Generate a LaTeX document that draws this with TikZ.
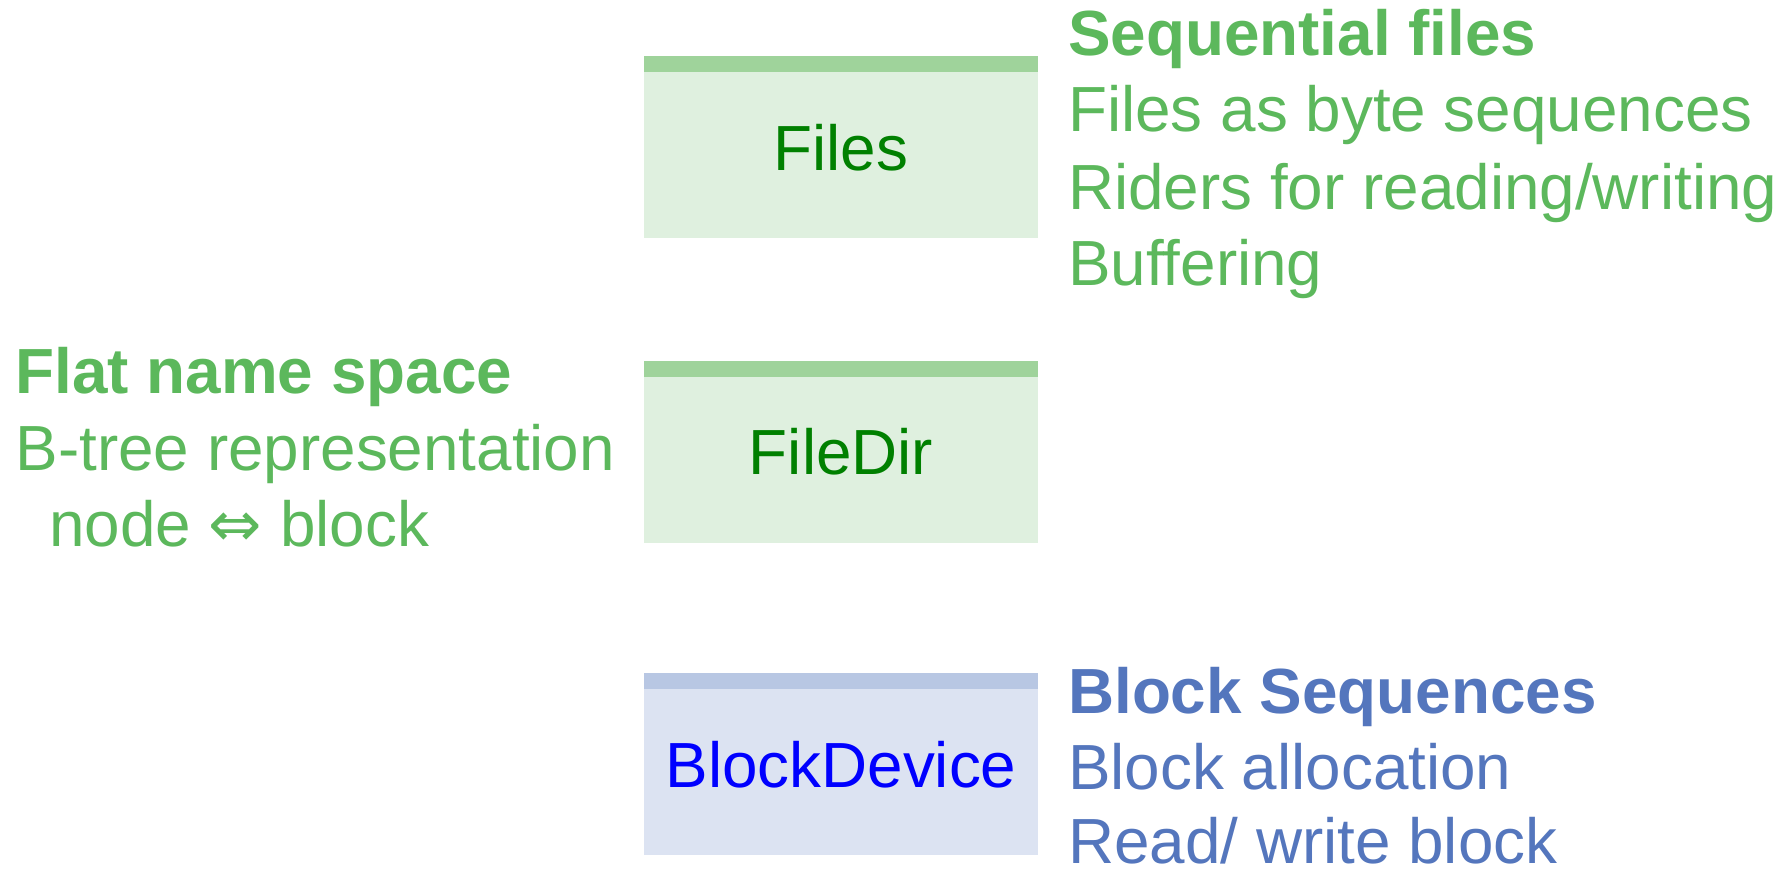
\documentclass[tikz,border=0pt]{standalone}
\usepackage{fontspec}
\setmainfont{Liberation Sans}
\newfontfamily\symfont{DejaVu Sans}
\definecolor{greenbar}{RGB}{159,211,155}
\definecolor{greenbody}{RGB}{223,240,223}
\definecolor{greentext}{RGB}{0,128,0}
\definecolor{greenlbl}{RGB}{92,184,92}
\definecolor{bluebar}{RGB}{184,199,227}
\definecolor{bluebody}{RGB}{220,227,242}
\definecolor{bluetext}{RGB}{0,0,255}
\definecolor{bluelbl}{RGB}{84,118,189}
\tikzset{
  layerbox/.style={inner sep=0pt, minimum width=394pt, minimum height=181.7pt,
    font=\fontsize{63.8}{76}\selectfont},
  greenbox/.style={layerbox, fill=greenbody, text=greentext},
  bluebox/.style={layerbox, fill=bluebody, text=bluetext},
  lbl/.style={inner sep=0pt, anchor=base west, font=\fontsize{63.8}{76}\selectfont},
  hdr/.style={lbl, font=\fontsize{63.8}{76}\selectfont\bfseries},
}
\begin{document}
\begin{tikzpicture}[x=1pt,y=-1pt]
\useasboundingbox (0,0) rectangle (1788,871);
% boxes
\node[greenbox] (files) at (841,147.5) {Files};
\fill[greenbar] (files.north west) rectangle ([yshift=-16pt]files.north east);
\node[greenbox] (filedir) at (841,452) {FileDir};
\fill[greenbar] (filedir.north west) rectangle ([yshift=-16pt]filedir.north east);
\node[bluebox] (blockdev) at (841,764.5) {BlockDevice};
\fill[bluebar] (blockdev.north west) rectangle ([yshift=-16pt]blockdev.north east);
% right green labels
\node[hdr, text=greenlbl] (s1) at (1068,55) {Sequential files};
\node[lbl, text=greenlbl] (s2) at (1068,131.7) {Files as byte sequences};
\node[lbl, text=greenlbl] (s3) at (1068,209) {Riders for reading/writing};
\node[lbl, text=greenlbl] (s4) at (1068,285.7) {Buffering};
% left green labels
\node[hdr, text=greenlbl] (f1) at (15.5,393.3) {Flat name space};
\node[lbl, text=greenlbl] (f2) at (15.5,470) {B-tree representation};
\node[lbl, text=greenlbl] (f3) at (49,546.5) {node {\symfont ⇔} block};
% right blue labels
\node[hdr, text=bluelbl] (b1) at (1068,713.3) {Block Sequences};
\node[lbl, text=bluelbl] (b2) at (1068,789.3) {Block allocation};
\node[lbl, text=bluelbl] (b3) at (1068,863.5) {Read/ write block};
\end{tikzpicture}
\end{document}
